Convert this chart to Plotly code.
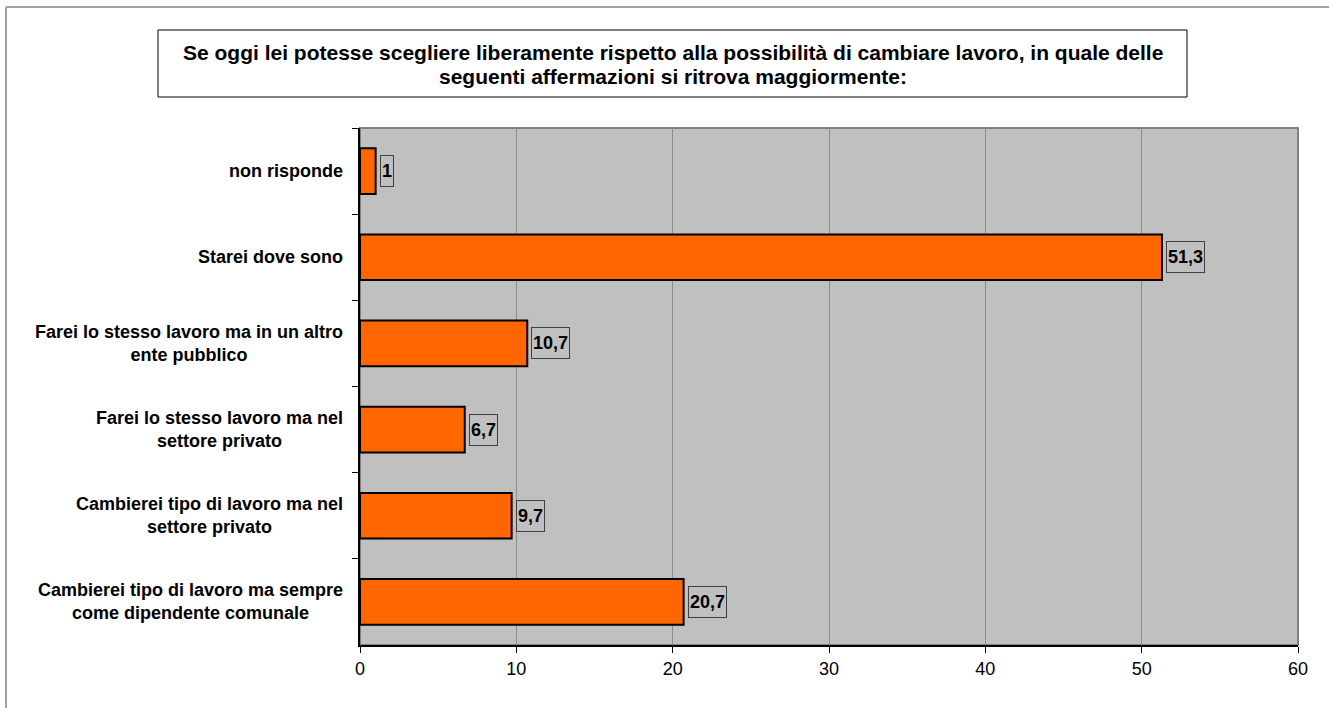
import plotly.graph_objects as go

# Data, top to bottom as in the chart
categories = [
    "non risponde",
    "Starei dove sono",
    "Farei lo stesso lavoro ma in un altro<br>ente pubblico",
    "Farei lo stesso lavoro ma nel<br>settore privato",
    "Cambierei tipo di lavoro ma nel<br>settore privato",
    "Cambierei tipo di lavoro ma sempre<br>come dipendente comunale",
]
values = [1, 51.3, 10.7, 6.7, 9.7, 20.7]
value_labels = ["1", "51,3", "10,7", "6,7", "9,7", "20,7"]
title_lines = [
    "Se oggi lei potesse scegliere liberamente rispetto alla possibilità di cambiare lavoro, in quale delle",
    "seguenti affermazioni si ritrova maggiormente:",
]

FONT = "Arial, Liberation Sans, sans-serif"
W, H = 1329, 708
L, R, T, B = 360, 1298, 128, 645


def px_x(p):
    return (p - L) / (R - L)


def px_y(p):
    return (B - p) / (B - T)


fig = go.Figure()

fig.add_trace(go.Bar(
    x=values,
    y=categories,
    orientation="h",
    marker=dict(color="#ff6600", line=dict(color="#000000", width=2)),
    hoverinfo="skip",
))

annotations = []

# category labels, centred lines as in the original
for cat in categories:
    annotations.append(dict(
        x=0, xref="paper", y=cat, yref="y",
        text="<b>%s</b>" % cat,
        showarrow=False, xanchor="right", yanchor="middle", align="center",
        xshift=-15,
        font=dict(family=FONT, size=18, color="#000000"),
    ))

# boxed value labels
for cat, v, lab in zip(categories, values, value_labels):
    annotations.append(dict(
        x=v, xref="x", y=cat, yref="y",
        text="<b>%s</b>" % lab,
        showarrow=False, xanchor="left", yanchor="middle",
        xshift=4, height=28, borderpad=1,
        bgcolor="#c0c0c0", bordercolor="#404040", borderwidth=1,
        font=dict(family=FONT, size=18, color="#000000"),
    ))

# title lines
for ty, line in zip([52, 77], title_lines):
    annotations.append(dict(
        x=px_x(672.5), xref="paper", y=px_y(ty), yref="paper",
        text="<b>%s</b>" % line,
        showarrow=False, xanchor="center", yanchor="middle",
        font=dict(family=FONT, size=21, color="#000000"),
    ))

border = dict(color="#a0a0a0", width=2)
shapes = [
    # outer chart border (only left and top edges fall inside the picture)
    dict(type="line", xref="paper", yref="paper",
         x0=px_x(6), x1=px_x(6), y0=px_y(720), y1=px_y(7), line=border, layer="below"),
    dict(type="line", xref="paper", yref="paper",
         x0=px_x(6), x1=px_x(1340), y0=px_y(7), y1=px_y(7), line=border, layer="below"),
    # title box
    dict(type="rect", xref="paper", yref="paper",
         x0=px_x(158), x1=px_x(1187), y0=px_y(97), y1=px_y(30),
         line=dict(color="#000000", width=1), fillcolor="#ffffff", layer="below"),
    # plot area frame (top/right grey)
    dict(type="rect", xref="paper", yref="paper", x0=0, x1=1, y0=0, y1=1,
         line=dict(color="#808080", width=2), fillcolor="rgba(0,0,0,0)", layer="below"),
]

fig.update_layout(
    width=W, height=H,
    margin=dict(l=L, r=W - R, t=T, b=H - B),
    paper_bgcolor="#ffffff",
    plot_bgcolor="#c0c0c0",
    bargap=0.47,
    showlegend=False,
    font=dict(family=FONT, size=18, color="#000000"),
    annotations=annotations,
    shapes=shapes,
    xaxis=dict(
        range=[0, 60], dtick=10, tick0=0,
        showgrid=True, gridcolor="#8c8c8c", gridwidth=1,
        zeroline=False,
        showline=True, linecolor="#000000", linewidth=2,
        ticks="outside", ticklen=6, tickcolor="#000000",
        tickfont=dict(family=FONT, size=18, color="#000000"),
        fixedrange=True,
    ),
    yaxis=dict(
        autorange="reversed",
        showticklabels=False,
        showgrid=False, zeroline=False,
        showline=True, linecolor="#000000", linewidth=2,
        ticks="outside", tickson="boundaries", ticklen=6, tickcolor="#000000",
        fixedrange=True,
    ),
)

# page body has an 8px default margin; drop it so the figure sits at 0,0
fig.write_html("out.html", config={"displayModeBar": False},
               post_script="document.body.style.margin='0';")
